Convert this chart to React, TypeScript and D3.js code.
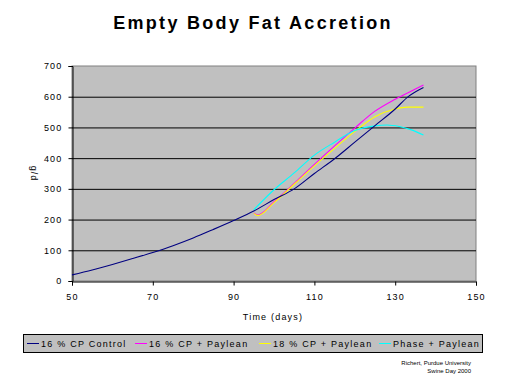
import React, { useEffect, useRef } from 'react';
import * as d3 from 'd3';

// days / g per day
const controlDays = [50, 55, 60, 65, 70, 75, 80, 85, 90, 95, 100, 105, 110, 115, 120, 125, 130, 133, 137];
const controlVals = [20, 36, 54, 73, 93, 115, 140, 168, 197, 228, 265, 300, 350, 398, 452, 506, 560, 598, 630];

const cp16Days = [95, 96, 100, 105, 110, 115, 120, 125, 130, 135, 137];
const cp16Vals = [222, 215, 258, 318, 380, 440, 498, 553, 592, 625, 638];

const cp18Days = [95, 96, 100, 105, 110, 115, 120, 125, 130, 133, 137];
const cp18Vals = [220, 213, 255, 315, 375, 432, 487, 535, 560, 566, 566];

const phaseDays = [95, 100, 105, 110, 115, 120, 125, 128, 131, 134, 137];
const phaseVals = [232, 297, 352, 410, 452, 490, 505, 508, 503, 492, 475];

const seriesNames = ['16 % CP Control', '16 % CP + Paylean', '18 % CP + Paylean', 'Phase + Paylean'];
const seriesColors = ['#000080', '#ff00ff', '#ffff00', '#00ffff'];

const xTicks = [50, 70, 90, 110, 130, 150];
const yTicks = [0, 100, 200, 300, 400, 500, 600, 700];

const charts = {
  fat: ({ el }) => {
    const svg = d3.select(el);
    svg.selectAll('*').remove();

    const x = d3.scaleLinear().domain([50, 150]).range([72, 476]);
    const y = d3.scaleLinear().domain([0, 700]).range([281, 66]);

    const font = 'Arial, "Liberation Sans", sans-serif';

    svg.append('text')
      .attr('x', 253).attr('y', 29)
      .attr('text-anchor', 'middle')
      .attr('font-family', font).attr('font-size', 18).attr('font-weight', 700)
      .attr('letter-spacing', 2.3)
      .text('Empty Body Fat Accretion');

    // plot area
    svg.append('rect')
      .attr('x', x(50)).attr('y', y(700))
      .attr('width', x(150) - x(50)).attr('height', y(0) - y(700))
      .attr('fill', '#c0c0c0').attr('stroke', '#808080');

    svg.append('g')
      .selectAll('line')
      .data(yTicks.filter(d => d > 0 && d < 700))
      .join('line')
        .attr('x1', x(50)).attr('x2', x(150))
        .attr('y1', d => y(d) + 0.5).attr('y2', d => y(d) + 0.5)
        .attr('stroke', '#000').attr('stroke-width', 1);

    const xAxis = svg.append('g')
      .attr('transform', `translate(0,${y(0) + 0.5})`)
      .call(d3.axisBottom(x).tickValues(xTicks).tickSize(4).tickPadding(8));
    const yAxis = svg.append('g')
      .attr('transform', `translate(${x(50) + 0.5},0)`)
      .call(d3.axisLeft(y).tickValues(yTicks).tickSize(4).tickPadding(6));
    [xAxis, yAxis].forEach(g => {
      g.selectAll('path, line').attr('stroke', '#000');
      g.selectAll('text')
        .attr('font-family', font).attr('font-size', 9).attr('letter-spacing', 1.2)
        .attr('fill', '#000');
    });

    svg.append('text')
      .attr('x', 273).attr('y', 320)
      .attr('text-anchor', 'middle')
      .attr('font-family', font).attr('font-size', 9).attr('letter-spacing', 1.2)
      .text('Time (days)');

    svg.append('text')
      .attr('transform', `translate(31,${y(350)}) rotate(90)`)
      .attr('text-anchor', 'middle')
      .attr('font-family', font).attr('font-size', 9).attr('letter-spacing', 1)
      .text('g/d');

    const data = [
      d3.zip(controlDays, controlVals),
      d3.zip(cp16Days, cp16Vals),
      d3.zip(cp18Days, cp18Vals),
      d3.zip(phaseDays, phaseVals),
    ];

    const line = d3.line()
      .x(d => x(d[0]))
      .y(d => y(d[1]))
      .curve(d3.curveMonotoneX);

    // draw control last so it sits on top like the original
    svg.append('g')
      .selectAll('path')
      .data([1, 2, 3, 0])
      .join('path')
        .attr('d', i => line(data[i]))
        .attr('fill', 'none')
        .attr('stroke', i => seriesColors[i])
        .attr('stroke-width', 1.1);

    // legend
    svg.append('rect')
      .attr('x', 23.5).attr('y', 334.5).attr('width', 459).attr('height', 18)
      .attr('fill', '#c0c0c0').attr('stroke', '#000');

    const legendX = [27, 135, 259, 379];
    const items = svg.append('g')
      .selectAll('g')
      .data(seriesNames)
      .join('g')
        .attr('transform', (d, i) => `translate(${legendX[i]},343.5)`);
    items.append('line')
      .attr('x1', 0).attr('x2', 12)
      .attr('shape-rendering', 'crispEdges')
      .attr('stroke', (d, i) => seriesColors[i]).attr('stroke-width', 1);
    items.append('text')
      .attr('x', 14).attr('y', 3.5)
      .attr('font-family', font).attr('font-size', 9).attr('letter-spacing', 1.25)
      .text(d => d);

    svg.append('g')
      .attr('font-family', font).attr('font-size', 6)
      .attr('text-anchor', 'end')
      .selectAll('text')
      .data(['Richert, Purdue University', 'Swine Day 2000'])
      .join('text')
        .attr('x', 471).attr('y', (d, i) => 365 + i * 8)
        .text(d => d);
  }
};

function Chart({ type, width, height }) {
  const ref = useRef(null);

  useEffect(() => {
    charts[type]({ el: ref.current });
  }, [type]);

  return <svg ref={ref} width={width} height={height} style={{ display: 'block' }} />;
}

export default function App() {
  return (
    <div style={{ position: 'absolute', left: 0, top: 0, background: '#fff' }}>
      <Chart type="fat" width={512} height={384} />
    </div>
  );
}
